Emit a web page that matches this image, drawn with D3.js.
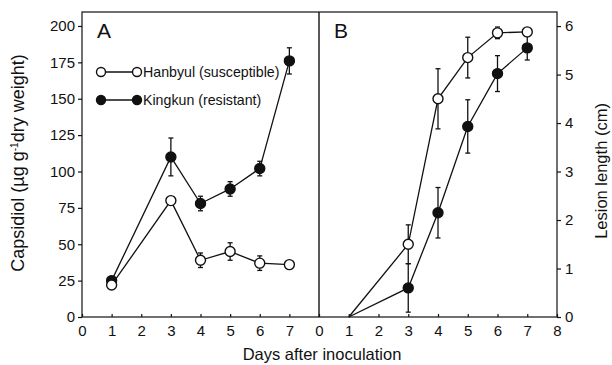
<!DOCTYPE html>
<html>
<head>
<meta charset="utf-8">
<script src="https://cdn.jsdelivr.net/npm/d3@7"></script>
<style>
  html, body { margin: 0; padding: 0; background: #fff; }
  svg { display: block; font-family: "Liberation Sans", Arial, sans-serif; }
  .axis text { font-size: 15px; fill: #111; }
  .axis path, .axis line { stroke: #111; stroke-width: 1.2; }
</style>
</head>
<body>
<svg id="chart" width="612" height="365"></svg>
<script>
// Panel A: capsidiol
const capsDays = [1, 3, 4, 5, 6, 7];
const hanCaps = [22, 80, 39, 45, 37, 36];
const hanCapsErr = [0, 0, 5, 6, 5, 1.5];
const kingCaps = [25, 110, 78, 88, 102, 176];
const kingCapsErr = [0, 13, 5, 5, 5, 9];

// Panel B: lesion length
const lesionDays = [1, 3, 4, 5, 6, 7];
const hanLes = [0, 1.5, 4.5, 5.35, 5.86, 5.88];
const hanLesErr = [0, 0.4, 0.62, 0.42, 0.12, 0.05];
const kingLes = [0, 0.6, 2.15, 3.93, 5.02, 5.55];
const kingLesErr = [0, 0.5, 0.52, 0.55, 0.37, 0.25];

const capsTicks = [0, 25, 50, 75, 100, 125, 150, 175, 200];
const lesionTicks = [0, 1, 2, 3, 4, 5, 6];
const dayTicksA = [0, 1, 2, 3, 4, 5, 6, 7];
const dayTicksB = [0, 1, 2, 3, 4, 5, 6, 7, 8];

const ink = '#111';
const svg = d3.select('#chart');

const plotTop = 12, plotBottom = 317;
const xA = d3.scaleLinear().domain([0, 8]).range([82, 319]);
const xB = d3.scaleLinear().domain([0, 8]).range([319, 557]);
const yA = d3.scaleLinear().domain([0, 209.6]).range([plotBottom, plotTop]);
const yB = d3.scaleLinear().domain([0, 6.29]).range([plotBottom, plotTop]);

// frame
svg.append('rect')
  .attr('x', xA(0)).attr('y', plotTop)
  .attr('width', xB(8) - xA(0)).attr('height', plotBottom - plotTop)
  .attr('fill', 'none').attr('stroke', ink).attr('stroke-width', 1.2);
svg.append('line')
  .attr('x1', xB(0)).attr('x2', xB(0)).attr('y1', plotTop).attr('y2', plotBottom)
  .attr('stroke', ink).attr('stroke-width', 1.4);

// axes
svg.append('g').attr('class', 'axis')
  .attr('transform', `translate(${xA(0)},0)`)
  .call(d3.axisLeft(yA).tickValues(capsTicks).tickSize(4).tickSizeOuter(0).tickPadding(3))
  .select('.domain').remove();
svg.append('g').attr('class', 'axis')
  .attr('transform', `translate(${xB(8)},0)`)
  .call(d3.axisRight(yB).tickValues(lesionTicks).tickFormat(d3.format('d'))
    .tickSize(4).tickSizeOuter(0).tickPadding(4))
  .select('.domain').remove();
svg.append('g').attr('class', 'axis')
  .attr('transform', `translate(0,${plotBottom})`)
  .call(d3.axisBottom(xA).tickValues(dayTicksA).tickSize(-3).tickSizeOuter(0).tickPadding(8))
  .select('.domain').remove();
svg.append('g').attr('class', 'axis')
  .attr('transform', `translate(0,${plotBottom})`)
  .call(d3.axisBottom(xB).tickValues(dayTicksB).tickSize(-3).tickSizeOuter(0).tickPadding(8))
  .select('.domain').remove();

// axis titles
svg.append('text')
  .attr('transform', 'translate(24,163) rotate(-90)')
  .attr('text-anchor', 'middle').attr('font-size', 18).attr('fill', ink)
  .html('Capsidiol (µg g<tspan dy="-6" font-size="10">-1</tspan><tspan dy="6">dry weight)</tspan>');
svg.append('text')
  .attr('transform', 'translate(607,171) rotate(-90)')
  .attr('text-anchor', 'middle').attr('font-size', 16.5).attr('fill', ink)
  .text('Lesion length (cm)');
svg.append('text')
  .attr('x', 322).attr('y', 360)
  .attr('text-anchor', 'middle').attr('font-size', 16.5).attr('fill', ink)
  .text('Days after inoculation');

// panel letters
svg.append('text').attr('x', 97).attr('y', 38).attr('font-size', 21).attr('fill', ink).text('A');
svg.append('text').attr('x', 334).attr('y', 38).attr('font-size', 21).attr('fill', ink).text('B');

function drawSeries(days, vals, errs, x, y, filled, skipFirstMarker) {
  const pts = days.map((d, i) => ({ d, v: vals[i], e: errs[i] }));
  const g = svg.append('g');
  g.append('path')
    .datum(pts)
    .attr('fill', 'none').attr('stroke', ink).attr('stroke-width', 1.3)
    .attr('d', d3.line().x(p => x(p.d)).y(p => y(p.v)));
  const withErr = pts.filter(p => p.e > 0);
  g.selectAll('.eb').data(withErr).enter().append('line')
    .attr('x1', p => x(p.d)).attr('x2', p => x(p.d))
    .attr('y1', p => y(p.v - p.e)).attr('y2', p => y(p.v + p.e))
    .attr('stroke', ink).attr('stroke-width', 1.3);
  ['-', '+'].forEach(s => {
    g.selectAll('.cap' + (s === '+' ? 'u' : 'd')).data(withErr).enter().append('line')
      .attr('x1', p => x(p.d) - 2.5).attr('x2', p => x(p.d) + 2.5)
      .attr('y1', p => y(s === '+' ? p.v + p.e : p.v - p.e))
      .attr('y2', p => y(s === '+' ? p.v + p.e : p.v - p.e))
      .attr('stroke', ink).attr('stroke-width', 1.3);
  });
  g.selectAll('.pt').data(skipFirstMarker ? pts.slice(1) : pts).enter().append('circle')
    .attr('cx', p => x(p.d)).attr('cy', p => y(p.v)).attr('r', 5)
    .attr('fill', filled ? ink : '#fff')
    .attr('stroke', ink).attr('stroke-width', 1.4);
}

drawSeries(capsDays, kingCaps, kingCapsErr, xA, yA, true, false);
drawSeries(capsDays, hanCaps, hanCapsErr, xA, yA, false, false);
drawSeries(lesionDays, kingLes, kingLesErr, xB, yB, true, true);
drawSeries(lesionDays, hanLes, hanLesErr, xB, yB, false, true);

// legend
const legend = [
  { label: 'Hanbyul (susceptible)', filled: false, y: 72 },
  { label: 'Kingkun (resistant)', filled: true, y: 100 }
];
const lg = svg.append('g');
legend.forEach(l => {
  lg.append('line').attr('x1', 101).attr('x2', 137).attr('y1', l.y).attr('y2', l.y)
    .attr('stroke', ink).attr('stroke-width', 1.3);
  [101, 137].forEach(cx => {
    lg.append('circle').attr('cx', cx).attr('cy', l.y).attr('r', 4.5)
      .attr('fill', l.filled ? ink : '#fff').attr('stroke', ink).attr('stroke-width', 1.4);
  });
  lg.append('text').attr('x', 143).attr('y', l.y + 5)
    .attr('font-size', 14.2).attr('fill', ink).text(l.label);
});
</script>
</body>
</html>
